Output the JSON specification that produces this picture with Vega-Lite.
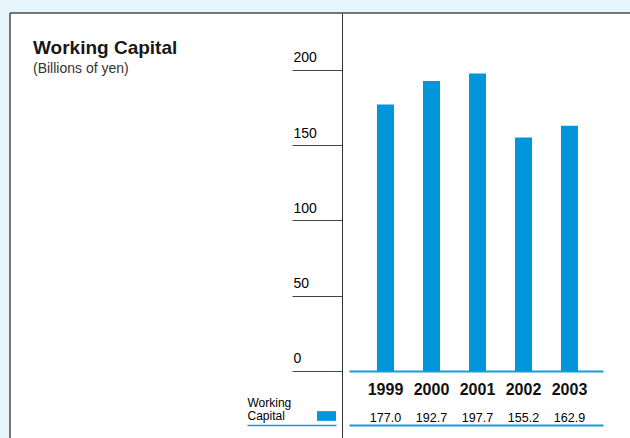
{
  "$schema": "https://vega.github.io/schema/vega-lite/v6.json",
  "width": 620,
  "height": 425,
  "autosize": {"type": "none"},
  "padding": {"left": 10, "top": 13, "right": 0, "bottom": 0},
  "background": "#e6f5fc",
  "config": {
    "font": "Liberation Sans",
    "view": {"fill": "white", "stroke": "#4a4a4a", "strokeWidth": 1.5, "strokeDash": [620, 1045, 425, 0]}
  },
  "title": {
    "text": "Working Capital",
    "subtitle": "(Billions of yen)",
    "orient": "top",
    "anchor": "start",
    "frame": "group",
    "dx": 23,
    "offset": -63,
    "fontSize": 19,
    "fontWeight": "bold",
    "color": "#1a1718",
    "subtitleFontSize": 14,
    "subtitleColor": "#333333",
    "subtitlePadding": 4
  },
  "data": {
    "values": [
      {"year": "1999", "value": 177.0, "series": "Working Capital"},
      {"year": "2000", "value": 192.7, "series": "Working Capital"},
      {"year": "2001", "value": 197.7, "series": "Working Capital"},
      {"year": "2002", "value": 155.2, "series": "Working Capital"},
      {"year": "2003", "value": 162.9, "series": "Working Capital"}
    ]
  },
  "resolve": {"axis": {"x": "independent", "y": "independent"}},
  "layer": [
    {
      "mark": {"type": "bar"},
      "encoding": {
        "x": {
          "field": "year",
          "type": "ordinal",
          "scale": {"range": [339, 593], "paddingInner": 0.63, "paddingOuter": 0.576, "align": 0.528},
          "axis": {
            "orient": "bottom",
            "offset": -67,
            "title": null,
            "ticks": false,
            "tickSize": 0,
            "domainColor": "#1a9ad9",
            "domainWidth": 2,
            "labelAngle": 0,
            "labelFontSize": 16,
            "labelFontWeight": "bold",
            "labelColor": "#111111",
            "labelBaseline": "alphabetic",
            "labelPadding": 23
          }
        },
        "y": {
          "field": "value",
          "type": "quantitative",
          "scale": {"domain": [-44.52, 237.87], "nice": false},
          "axis": {
            "orient": "left",
            "offset": -332,
            "values": [0, 50, 100, 150, 200],
            "title": null,
            "grid": false,
            "domainColor": "#333333",
            "domainWidth": 1,
            "tickColor": "#444444",
            "tickWidth": 1,
            "tickSize": 50,
            "labelAlign": "left",
            "labelBaseline": "alphabetic",
            "labelPadding": -1,
            "labelOffset": -8,
            "labelFontSize": 14,
            "labelColor": "#000000"
          }
        },
        "color": {
          "field": "series",
          "type": "nominal",
          "scale": {"range": ["#0096d9"]},
          "legend": {
            "orient": "none",
            "legendX": 307,
            "legendY": 393.5,
            "title": null,
            "padding": 0,
            "symbolType": "M-1,-0.51H1V0.51H-1Z",
            "symbolSize": 361,
            "symbolStrokeWidth": 0,
            "labelExpr": "''"
          }
        }
      }
    },
    {
      "mark": {"type": "text", "fontSize": 12.5, "align": "center", "baseline": "alphabetic", "color": "#000000"},
      "encoding": {
        "x": {
          "field": "year",
          "type": "ordinal",
          "axis": {
            "orient": "top",
            "offset": -412,
            "title": null,
            "labels": false,
            "ticks": false,
            "domainColor": "#1a9ad9",
            "domainWidth": 2
          }
        },
        "y": {
          "datum": -33.7,
          "type": "quantitative",
          "axis": {
            "orient": "left",
            "offset": -326,
            "values": [-35.55],
            "domain": false,
            "labels": false,
            "grid": false,
            "ticks": true,
            "tickSize": 89,
            "tickColor": "#1a9ad9",
            "tickWidth": 1.5,
            "title": ["Working", "Capital"],
            "titleAngle": 0,
            "titleAlign": "left",
            "titleBaseline": "alphabetic",
            "titleX": -89,
            "titleY": 393.7,
            "titleFontSize": 12,
            "titleFontWeight": "normal",
            "titleLineHeight": 12.7,
            "titleColor": "#000000"
          }
        },
        "text": {"field": "value", "type": "quantitative", "format": ".1f"}
      }
    }
  ]
}
